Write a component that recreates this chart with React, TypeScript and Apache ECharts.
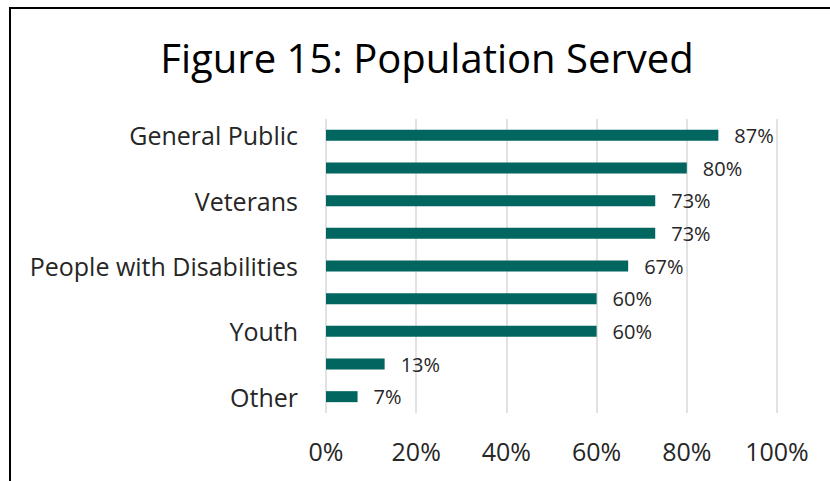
import React, { useEffect, useRef } from "react";
import * as echarts from "echarts";

// NOTE: the reference shows only every other category label. The four hidden
// names below ("Older Adults", "Low-Income Individuals", "Families",
// "Immigrants") are placeholders, not read from the chart; they are never drawn.
const categories = [
  "General Public",
  "Older Adults",
  "Veterans",
  "Low-Income Individuals",
  "People with Disabilities",
  "Families",
  "Youth",
  "Immigrants",
  "Other",
];
const values = [87, 80, 73, 73, 67, 60, 60, 13, 7];
const xTicks = [0, 20, 40, 60, 80, 100];
const titleText = "Figure 15: Population Served";

export default function App() {
  const ref = useRef<HTMLDivElement>(null);
  useEffect(() => {
    if (!ref.current) return;
    const chart = echarts.init(ref.current, null, { renderer: "svg" });
    chart.setOption({
      animation: false,
      backgroundColor: "#ffffff",
      title: {
        text: titleText,
        left: 422,
        top: 32,
        textAlign: "center",
        textStyle: {
          fontFamily: "Open Sans",
          fontSize: 40,
          fontWeight: "normal",
          color: "#000000",
        },
      },
      graphic: [
        {
          type: "polyline",
          shape: { points: [[10, 481], [10, 8], [830, 8]] },
          style: { stroke: "#000000", lineWidth: 2, fill: "none" },
        },
      ],
      grid: { left: 326, right: 53, top: 119, bottom: 68, containLabel: false },
      xAxis: {
        type: "value",
        min: xTicks[0],
        max: xTicks[xTicks.length - 1],
        interval: 20,
        axisLine: { show: false },
        axisTick: { show: false },
        splitLine: { show: true, lineStyle: { color: "#d9d9d9", width: 1.5 } },
        axisLabel: {
          formatter: "{value}%",
          margin: 25,
          fontFamily: "Open Sans",
          fontSize: 25,
          color: "#262626",
        },
      },
      yAxis: {
        type: "category",
        data: categories,
        inverse: true,
        axisLine: { show: false },
        axisTick: { show: false },
        splitLine: { show: false },
        axisLabel: {
          interval: 1,
          margin: 28,
          fontFamily: "Open Sans",
          fontSize: 25,
          color: "#262626",
        },
      },
      series: [
        {
          type: "bar",
          data: values,
          barWidth: 11,
          itemStyle: { color: "#00665f" },
          label: {
            show: true,
            position: "right",
            distance: 16,
            formatter: "{c}%",
            fontFamily: "Open Sans",
            fontSize: 20,
            color: "#262626",
          },
        },
      ],
    });
    return () => chart.dispose();
  }, []);
  return (
    <div
      ref={ref}
      style={{ position: "absolute", left: 0, top: 0, width: 830, height: 481 }}
    />
  );
}
